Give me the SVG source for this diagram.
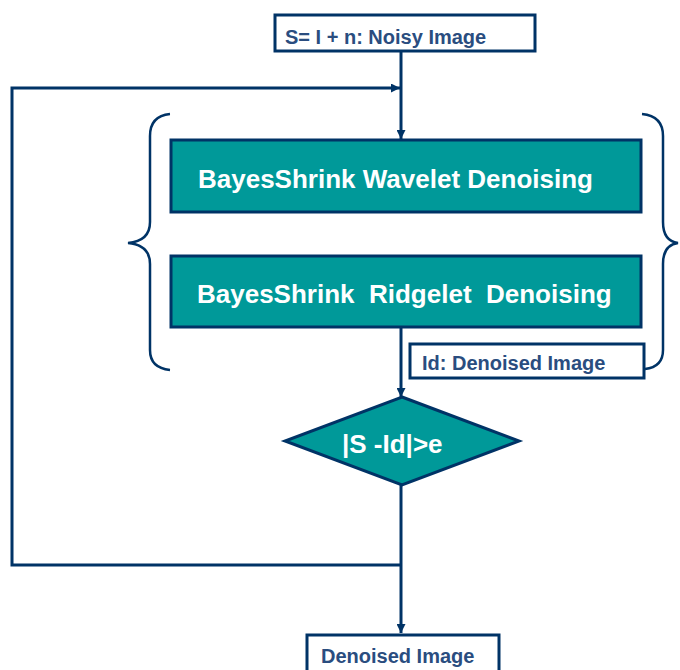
<svg xmlns="http://www.w3.org/2000/svg" width="680" height="670" viewBox="0 0 680 670">
<style>
.ln{fill:none;stroke:#003366;stroke-width:3}
.br{fill:none;stroke:#003366;stroke-width:2.5}
.box{fill:#ffffff;stroke:#003366;stroke-width:3}
.proc{fill:#009999;stroke:#003366;stroke-width:3}
.lbl{font-family:"Liberation Sans",Arial,sans-serif;font-weight:bold;font-size:20px;fill:#2a4d7f}
.wt{font-family:"Liberation Sans",Arial,sans-serif;font-weight:bold;font-size:26px;fill:#ffffff;white-space:pre}
</style>
<defs>
<marker id="ah" viewBox="0 0 10 10" refX="10" refY="5" markerWidth="9" markerHeight="9" markerUnits="userSpaceOnUse" orient="auto">
<path d="M0,0 L10,5 L0,10 Z" fill="#003366"/>
</marker>
</defs>
<rect width="680" height="670" fill="#ffffff"/>
<g id="connectors">
<line class="ln" x1="401" y1="51" x2="401" y2="139" marker-end="url(#ah)"/>
<polyline class="ln" points="401,565 12,565 12,88 400,88" marker-end="url(#ah)"/>
<line class="ln" x1="401" y1="327" x2="401" y2="397" marker-end="url(#ah)"/>
<line class="ln" x1="401" y1="485" x2="401" y2="633" marker-end="url(#ah)"/>
</g>
<g id="braces">
<path class="br" d="M170,114 Q150,116 150,136 L150,222 Q150,241 128,243 Q150,245 150,264 L150,350 Q150,368 170,370"/>
<path class="br" d="M642,114 Q663,116 663,136 L663,222 Q663,241 678,243 Q663,245 663,264 L663,350 Q663,367 645,369"/>
</g>
<g id="input">
<rect class="box" x="275" y="15" width="260" height="36"/>
<text class="lbl" x="285" y="44">S= I + n: Noisy Image</text>
</g>
<g id="wavelet">
<rect class="proc" x="171" y="140" width="470" height="72"/>
<text class="wt" x="198" y="188">BayesShrink Wavelet Denoising</text>
</g>
<g id="ridgelet">
<rect class="proc" x="171" y="256" width="470" height="71"/>
<text class="wt" x="197" y="303" xml:space="preserve">BayesShrink  Ridgelet  Denoising</text>
</g>
<g id="id-label">
<rect class="box" x="410" y="344" width="234" height="34"/>
<text class="lbl" x="422" y="370">Id: Denoised Image</text>
</g>
<g id="decision">
<polygon class="proc" points="402,397 519,441 402,485 285,441"/>
<text class="wt" x="342" y="453">|S -Id|&gt;e</text>
</g>
<g id="output">
<rect class="box" x="307" y="635" width="192" height="40"/>
<text class="lbl" x="321" y="663">Denoised Image</text>
</g>
</svg>
